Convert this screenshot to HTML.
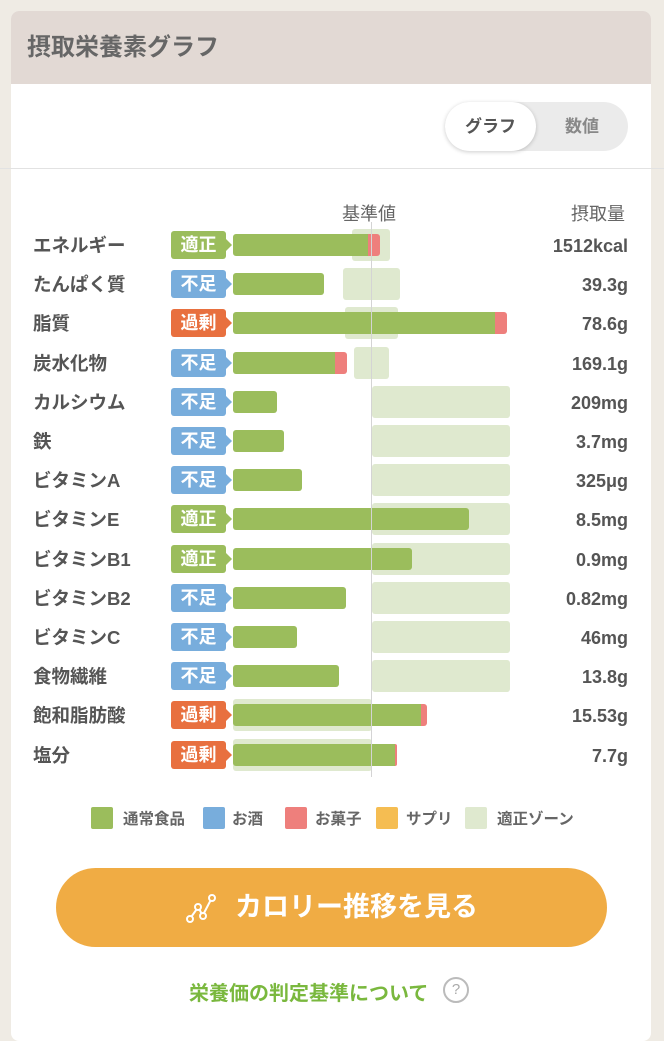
<!DOCTYPE html>
<html><head><meta charset="utf-8"><style>
body{margin:0;width:664px;height:1024px;background:#efebe4;font-family:"Liberation Sans","Noto Sans CJK JP",sans-serif;position:relative;overflow:hidden;color:#555}
.card{position:absolute;left:11px;top:11px;width:640px;height:1030px;background:#fff;border-radius:8px;overflow:hidden}
.hd{height:73px;background:#e2d9d4;font-size:24px;font-weight:bold;color:#666;padding-left:16px;line-height:73px}
.abs{position:absolute}
.lab{position:absolute;left:33px;font-size:18.5px;font-weight:bold;color:#555;line-height:22px}
.bd{position:absolute;left:171px;width:55px;height:28px;border-radius:3px;color:#fff;font-size:18px;font-weight:bold;text-align:center;line-height:28px}
.bd:after{content:"";position:absolute;right:-6px;top:8px;border-left:6px solid;border-left-color:inherit;border-top:6px solid transparent;border-bottom:6px solid transparent}
.ok{background:#9bbd5c;border-color:#9bbd5c}.lo{background:#78addc;border-color:#78addc}.hi{background:#e8703f;border-color:#e8703f}
.z{position:absolute;background:#dfe9cf;border-radius:3px}
.g{position:absolute;background:#9bbd5c;border-radius:3px;height:22px}
.p{position:absolute;background:#ee7f7c;border-radius:0 3px 3px 0;height:22px}
.v{position:absolute;right:36px;font-size:18px;font-weight:bold;color:#555;line-height:22px}
.lg{position:absolute;top:807px;width:22px;height:22px;border-radius:2px}
.lt{position:absolute;top:807px;font-size:15.5px;font-weight:bold;color:#666}
</style></head><body>
<div class="card"><div class="hd">摂取栄養素グラフ</div></div>
<div class="abs" style="left:0;top:168px;width:664px;height:1px;background:#e2e2e2"></div>
<div class="abs" style="left:445px;top:102px;width:183px;height:49px;border-radius:25px;background:#ebebeb"></div>
<div class="abs" style="left:445px;top:102px;width:91px;height:49px;border-radius:25px;background:#fff;box-shadow:0 1px 4px rgba(0,0,0,.2);text-align:center;line-height:49px;font-size:17px;font-weight:bold;color:#555">グラフ</div>
<div class="abs" style="left:536px;top:102px;width:92px;height:49px;text-align:center;line-height:49px;font-size:17px;font-weight:bold;color:#888">数値</div>
<div class="abs" style="left:342px;top:200px;font-size:18px;color:#666">基準値</div>
<div class="abs" style="left:571px;top:200px;font-size:18px;color:#666">摂取量</div>
<div id="rows"></div>
<div class="abs" style="left:371px;top:222px;width:1px;height:555px;background:#d4d4d4"></div>
<div class="lg" style="left:91px;background:#9bbd5c"></div><div class="lt" style="left:123px">通常食品</div>
<div class="lg" style="left:203px;background:#78addc"></div><div class="lt" style="left:232px">お酒</div>
<div class="lg" style="left:285px;background:#ee7f7c"></div><div class="lt" style="left:315px">お菓子</div>
<div class="lg" style="left:376px;background:#f5bd52"></div><div class="lt" style="left:406px">サプリ</div>
<div class="lg" style="left:465px;background:#dfe9cf"></div><div class="lt" style="left:497px">適正ゾーン</div>
<div class="abs" style="left:56px;top:868px;width:551px;height:79px;border-radius:40px;background:#f0ac44;color:#fff;font-size:27px;font-weight:bold;line-height:79px;text-align:center">
<svg width="32" height="32" viewBox="0 0 32 32" style="vertical-align:middle;margin-right:18px" fill="none" stroke="#fff" stroke-width="2"><circle cx="5" cy="26" r="3"/><circle cx="13" cy="14" r="3"/><circle cx="18" cy="23" r="3"/><circle cx="27" cy="5" r="3"/><path d="M6.5 23.5L11.5 16.5M14.5 16.5L16.5 20.5M19 20L25.5 7.5"/></svg>カロリー推移を見る</div>
<div class="abs" style="left:189px;top:977px;font-size:20px;font-weight:bold;color:#7ab83e">栄養価の判定基準について</div>
<div class="abs" style="left:443px;top:977px;width:22px;height:22px;border:2px solid #bbb;border-radius:50%;text-align:center;line-height:22px;font-size:15px;color:#aaa">?</div>
<script>
var d=[["エネルギー","ok",368,380,352,390,"1512kcal"],["たんぱく質","lo",324,0,343,400,"39.3g"],["脂質","hi",495,507,345,398,"78.6g"],["炭水化物","lo",335,347,354,389,"169.1g"],["カルシウム","lo",277,0,372,510,"209mg"],["鉄","lo",284,0,372,510,"3.7mg"],["ビタミンA","lo",302,0,372,510,"325μg"],["ビタミンE","ok",469,0,372,510,"8.5mg"],["ビタミンB1","ok",412,0,372,510,"0.9mg"],["ビタミンB2","lo",346,0,372,510,"0.82mg"],["ビタミンC","lo",297,0,372,510,"46mg"],["食物繊維","lo",339,0,372,510,"13.8g"],["飽和脂肪酸","hi",421,427,233,372,"15.53g"],["塩分","hi",395,397,233,372,"7.7g"]];
var T={ok:"適正",lo:"不足",hi:"過剰"},h="";
d.forEach(function(r,i){var c=245+i*39.2;
h+='<div class="lab" style="top:'+(c-10)+'px">'+r[0]+'</div>';
h+='<div class="bd '+r[1]+'" style="top:'+(c-14)+'px">'+T[r[1]]+'</div>';
h+='<div class="z" style="left:'+r[4]+'px;width:'+(r[5]-r[4])+'px;top:'+(c-16)+'px;height:32px"></div>';
h+='<div class="g" style="left:233px;width:'+(r[2]-233)+'px;top:'+(c-11)+'px;'+(r[3]?'border-radius:3px 0 0 3px':'')+'"></div>';
if(r[3])h+='<div class="p" style="left:'+r[2]+'px;width:'+(r[3]-r[2])+'px;top:'+(c-11)+'px"></div>';
h+='<div class="v" style="top:'+(c-10)+'px">'+r[6]+'</div>';});
document.getElementById("rows").innerHTML=h;
</script>
</body></html>
